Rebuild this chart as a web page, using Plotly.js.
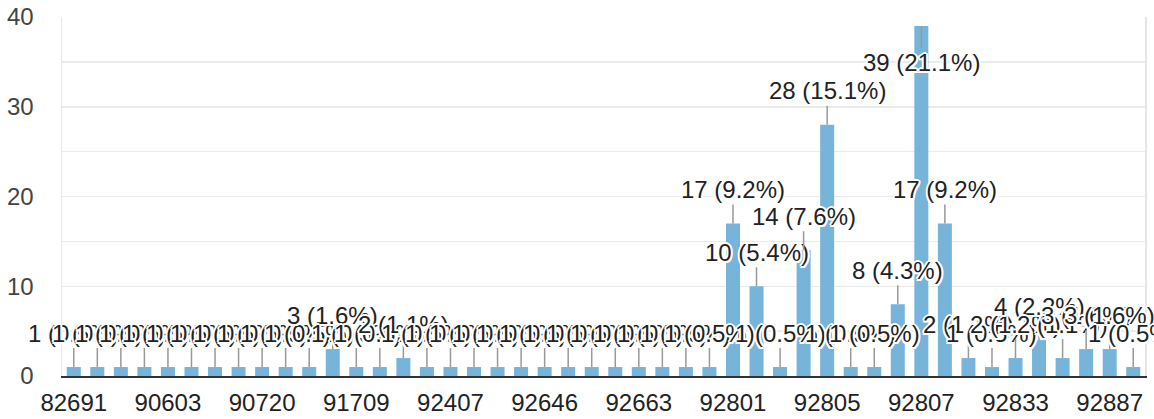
<!DOCTYPE html>
<html>
<head>
<meta charset="utf-8">
<script src="https://cdn.plot.ly/plotly-3.0.1.min.js"></script>
<style>html,body{margin:0;padding:0;background:#fff;}#chart{width:1154px;height:419px;}</style>
</head>
<body>
<div id="chart"></div>
<script>
// Category names (every 4th one is shown as a tick label)
const categories = [
  "82691","84047","85032","90019",
  "90603","90631","90638","90680",
  "90720","90740","91320","91701",
  "91709","91710","91761","92344",
  "92407","92501","92562","92602",
  "92646","92648","92649","92656",
  "92663","92683","92694","92704",
  "92801","92802","92803","92804",
  "92805","92806","92806-1","92806-2",
  "92807","92808","92821","92831",
  "92833","92835","92840","92868",
  "92887","93003"
];
const counts = [
  1,1,1,1,
  1,1,1,1,
  1,1,1,3,
  1,1,2,1,
  1,1,1,1,
  1,1,1,1,
  1,1,1,1,
  17,10,1,14,
  28,1,1,8,
  39,17,2,1,
  2,4,2,3,
  3,1
];
const tickEvery = 4;
const tickCategories = categories.filter((c, i) => i % tickEvery === 0);

const total = counts.reduce((a, b) => a + b, 0);
const maxCount = Math.max(...counts);
const FONT = '"Liberation Sans", Arial, sans-serif';
const labelFont = {
  family: FONT, size: 24, color: '#222',
  shadow: '2px 0 0 #fff, -2px 0 0 #fff, 0 2px 0 #fff, 0 -2px 0 #fff, 1.5px 1.5px 0 #fff, -1.5px -1.5px 0 #fff, 1.5px -1.5px 0 #fff, -1.5px 1.5px 0 #fff'
};
// category axis: annotations are placed by category index
const annotations = counts.map((v, i) => ({
  x: i, y: v, xref: 'x', yref: 'y',
  text: v + ' (' + (v / total * 100).toFixed(1) + '%)',
  showarrow: true, arrowhead: 0, arrowwidth: 1.5, arrowcolor: '#999',
  ax: 0, ay: v === maxCount ? 37 : -34, standoff: 0,
  font: labelFont
}));

Plotly.newPlot('chart', [{
  type: 'bar', x: categories, y: counts,
  marker: {color: '#77b4da'},
  hoverinfo: 'x+y'
}], {
  width: 1154, height: 419,
  margin: {l: 62, r: 9, t: 17, b: 43},
  paper_bgcolor: '#fff', plot_bgcolor: '#fff',
  bargap: 0.405,
  showlegend: false,
  font: {family: FONT, size: 24, color: '#222'},
  xaxis: {
    type: 'category', categoryorder: 'array', categoryarray: categories,
    range: [-0.5, categories.length - 0.5],
    tickmode: 'array', tickvals: tickCategories, ticktext: tickCategories,
    showgrid: false, showline: true, linecolor: '#333', linewidth: 2,
    ticks: 'outside', ticklen: 4, tickcolor: 'rgba(0,0,0,0)',
    tickfont: {size: 24, color: '#222'}, zeroline: false
  },
  yaxis: {
    range: [0, 40], dtick: 10, tick0: 0,
    showgrid: true, gridcolor: '#ebebeb', gridwidth: 1.5,
    minor: {dtick: 5, showgrid: true, gridcolor: '#ebebeb', gridwidth: 1.5},
    showline: true, mirror: true, linecolor: '#e6e6e6', linewidth: 1.5,
    zeroline: false,
    ticks: 'outside', ticklen: 22, tickcolor: 'rgba(0,0,0,0)',
    tickfont: {size: 24, color: '#444'}
  },
  annotations: annotations
}, {displayModeBar: false, staticPlot: true});
</script>
</body>
</html>
